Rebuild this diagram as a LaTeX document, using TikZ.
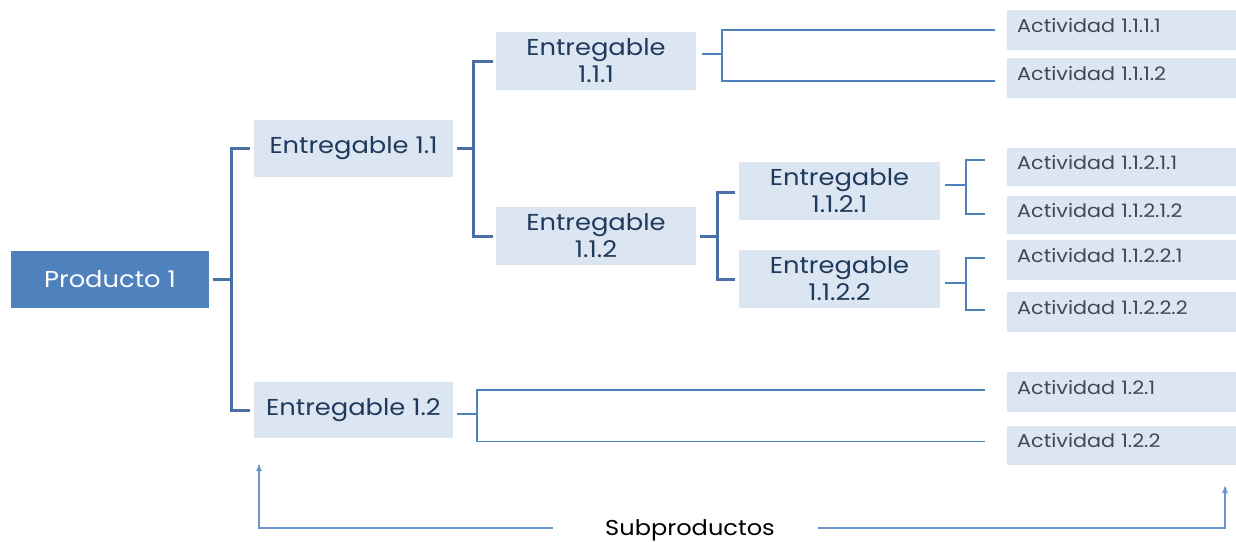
\documentclass[tikz,border=0pt]{standalone}
\usepackage{fontspec}
\setmainfont{Poppins}[FakeStretch=1.12]
\usetikzlibrary{arrows.meta}
\definecolor{darkbox}{HTML}{4F81BD}
\definecolor{lightbox}{HTML}{DCE6F2}
\definecolor{navytxt}{HTML}{1F3A5C}
\definecolor{acttxt}{HTML}{404850}
\definecolor{thkline}{HTML}{4A6FA5}
\definecolor{thnline}{HTML}{4F81BD}
\definecolor{arrline}{HTML}{6A94CC}
\tikzset{
  prodbox/.style={fill=darkbox, text=white, minimum width=198pt, minimum height=57pt, inner sep=0pt, font=\fontsize{23}{26}\selectfont},
  entbox/.style={fill=lightbox, text=navytxt, minimum width=200pt, minimum height=58pt, inner sep=0pt, align=center, font=\fontsize{23}{27}\selectfont},
  actbox/.style={fill=lightbox, text=acttxt, minimum width=229pt, minimum height=40pt, inner xsep=10pt, inner ysep=0pt, text width=209pt, text height=13pt, text depth=9pt, align=left, anchor=west, font=\fontsize{18.5}{20}\selectfont},
  thk/.style={draw=thkline, line width=3pt},
  thn/.style={draw=thnline, line width=1.3pt},
  subarr/.style={draw=arrline, line width=1.4pt, -{Latex[length=8pt,width=6pt]}}
}
\begin{document}
\begin{tikzpicture}[x=1pt,y=-1pt]
\useasboundingbox (0,0) rectangle (1236,541);
% main nodes
\node[prodbox] (p1) at (110,279.5) {Producto 1};
\node[entbox, minimum width=199pt, minimum height=57pt] (e11) at (353.5,148.5) {Entregable 1.1};
\node[entbox, minimum width=199pt, minimum height=56pt] (e12) at (353.5,410) {Entregable 1.2};
\node[entbox] (e111) at (596,61) {Entregable\\1.1.1};
\node[entbox] (e112) at (596,236) {Entregable\\1.1.2};
\node[entbox, minimum width=201pt] (e1121) at (839.5,191) {Entregable\\1.1.2.1};
\node[entbox, minimum width=201pt] (e1122) at (839.5,279) {Entregable\\1.1.2.2};
% activities
\node[actbox] (a1111) at (1007,30) {Actividad 1.1.1.1};
\node[actbox] (a1112) at (1007,78) {Actividad 1.1.1.2};
\node[actbox, minimum height=38pt] (a11211) at (1007,167) {Actividad 1.1.2.1.1};
\node[actbox, minimum height=38pt] (a11212) at (1007,215) {Actividad 1.1.2.1.2};
\node[actbox] (a11221) at (1007,260) {Actividad 1.1.2.2.1};
\node[actbox] (a11222) at (1007,312) {Actividad 1.1.2.2.2};
\node[actbox] (a121) at (1007,392) {Actividad 1.2.1};
\node[actbox, minimum height=39pt] (a122) at (1007,445.5) {Actividad 1.2.2};
\node[font=\fontsize{21.5}{24}\selectfont, text=black, inner sep=0pt] (sub) at (690,530) {Subproductos};
% thick connectors
\draw[thk] ([xshift=4pt]p1.east) -- ++(19,0);
\draw[thk] ([xshift=-4pt]e11.west) -- ++(-18,0) |- ([xshift=-4pt]e12.west);
\draw[thk] ([xshift=4pt]e11.east) -- ++(17,0);
\draw[thk] ([xshift=-3pt]e111.west) -- ++(-19,0) |- ([xshift=-3pt]e112.west);
\draw[thk] ([xshift=4pt]e112.east) -- ++(18,0);
\draw[thk] ([xshift=-4pt,yshift=-1pt]e1121.west) -- ++(-17,0) |- ([xshift=-4pt]e1122.west);
% thin connectors
\coordinate (b111) at (722,54);
\draw[thn] ([xshift=6pt,yshift=7pt]e111.east) -- (b111);
\draw[thn] ([xshift=-12pt]a1111.west) -| (b111) |- ([xshift=-12pt,yshift=-3pt]a1112.west);
\coordinate (b1121) at (966,185);
\draw[thn] ([xshift=5pt,yshift=6pt]e1121.east) -- (b1121);
\draw[thn] ([xshift=-22pt,yshift=7pt]a11211.west) -| (b1121) |- ([xshift=-22pt,yshift=1pt]a11212.west);
\coordinate (b1122) at (966,283);
\draw[thn] ([xshift=5pt,yshift=-4pt]e1122.east) -- (b1122);
\draw[thn] ([xshift=-22pt,yshift=2pt]a11221.west) -| (b1122) |- ([xshift=-22pt,yshift=2pt]a11222.west);
\coordinate (b12) at (477,414);
\draw[thn] ([xshift=4pt,yshift=-4pt]e12.east) -- (b12);
\draw[thn] ([xshift=-22pt,yshift=2pt]a121.west) -| (b12) |- ([xshift=-22pt,yshift=4pt]a122.west);
% subproductos arrows
\coordinate (subL) at (259,463);
\coordinate (subR) at (1225,485);
\draw[subarr] ([xshift=-52pt,yshift=2pt]sub.west) -| (subL);
\draw[subarr] ([xshift=43pt,yshift=2pt]sub.east) -| (subR);
\end{tikzpicture}
\end{document}
